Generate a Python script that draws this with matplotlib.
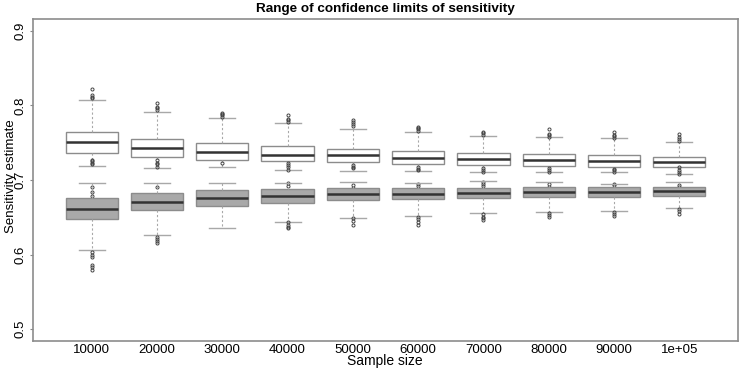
import matplotlib
matplotlib.use("Agg")
import matplotlib.pyplot as plt

plt.rcParams['font.family'] = ['Liberation Sans', 'DejaVu Sans']

sizes = ["10000", "20000", "30000", "40000", "50000",
         "60000", "70000", "80000", "90000", "1e+05"]

# upper confidence limit (white boxes)
hi_med = [0.7506, 0.743, 0.738, 0.734, 0.733, 0.730, 0.7282, 0.7268, 0.726, 0.7246]
hi_q1 = [0.7367, 0.731, 0.7268, 0.725, 0.724, 0.722, 0.720, 0.7192, 0.718, 0.718]
hi_q3 = [0.765, 0.7554, 0.750, 0.746, 0.742, 0.7394, 0.7362, 0.7345, 0.7332, 0.7313]
hi_lo = [0.7188, 0.7166, 0.7179, 0.7134, 0.712, 0.7125, 0.7107, 0.711, 0.711, 0.7076]
hi_hi = [0.8078, 0.791, 0.7832, 0.777, 0.7685, 0.765, 0.7595, 0.7577, 0.756, 0.7514]
hi_out = [
    [0.810, 0.812, 0.814, 0.822, 0.691, 0.684, 0.678],
    [0.794, 0.796, 0.798, 0.803, 0.691],
    [0.785, 0.787, 0.789, 0.790],
    [0.778, 0.780, 0.782, 0.787, 0.696, 0.692],
    [0.772, 0.775, 0.778, 0.781, 0.693, 0.689],
    [0.766, 0.768, 0.770, 0.771, 0.695, 0.692],
    [0.761, 0.763, 0.765, 0.697, 0.694, 0.692],
    [0.758, 0.760, 0.762, 0.768, 0.694, 0.691],
    [0.757, 0.759, 0.761, 0.765, 0.695, 0.693],
    [0.752, 0.755, 0.758, 0.762, 0.693, 0.691],
]

# lower confidence limit (grey boxes)
lo_med = [0.6615, 0.671, 0.6758, 0.6785, 0.6808, 0.6817, 0.6826, 0.6835, 0.6843, 0.6852]
lo_q1 = [0.6472, 0.6593, 0.6647, 0.6695, 0.6727, 0.6745, 0.6758, 0.6772, 0.6776, 0.6789]
lo_q3 = [0.6763, 0.683, 0.6862, 0.6875, 0.6889, 0.6897, 0.6897, 0.690, 0.691, 0.691]
lo_lo = [0.606, 0.6257, 0.6352, 0.6436, 0.6494, 0.6517, 0.6557, 0.6575, 0.6588, 0.6624]
lo_hi = [0.6955, 0.696, 0.696, 0.696, 0.6973, 0.6964, 0.6983, 0.6973, 0.695, 0.6977]
lo_out = [
    [0.721, 0.723, 0.725, 0.727, 0.604, 0.600, 0.597, 0.586, 0.583, 0.579],
    [0.718, 0.721, 0.723, 0.727, 0.624, 0.621, 0.618, 0.616],
    [0.723],
    [0.714, 0.717, 0.720, 0.723, 0.643, 0.640, 0.637, 0.635],
    [0.716, 0.718, 0.720, 0.649, 0.645, 0.640],
    [0.713, 0.715, 0.718, 0.651, 0.648, 0.644, 0.640],
    [0.711, 0.713, 0.716, 0.654, 0.651, 0.649, 0.647],
    [0.711, 0.713, 0.716, 0.656, 0.653, 0.651],
    [0.711, 0.713, 0.715, 0.657, 0.655, 0.652],
    [0.708, 0.711, 0.714, 0.717, 0.661, 0.658, 0.655],
]


def make_stats(med, q1, q3, wlo, whi, out):
    return [dict(med=med[i], q1=q1[i], q3=q3[i], whislo=wlo[i], whishi=whi[i],
                 fliers=out[i], label=sizes[i]) for i in range(len(sizes))]


fig = plt.figure(figsize=(7.43, 3.68), dpi=100)
ax = fig.add_axes([33 / 743, 1 - 341 / 368, 705 / 743, 322 / 368])

pos = list(range(1, len(sizes) + 1))
edge = '#8c8c8c'
for stats, fill in [(make_stats(hi_med, hi_q1, hi_q3, hi_lo, hi_hi, hi_out), 'white'),
                    (make_stats(lo_med, lo_q1, lo_q3, lo_lo, lo_hi, lo_out), '#a9a9a9')]:
    ax.bxp(stats, positions=pos, widths=0.8, patch_artist=True,
           boxprops=dict(facecolor=fill, edgecolor=edge, linewidth=1.0),
           medianprops=dict(color='#333333', linewidth=1.8, solid_capstyle='butt'),
           whiskerprops=dict(color='#a8a8a8', linewidth=0.8, linestyle=(0, (2, 2))),
           capprops=dict(color='#a8a8a8', linewidth=1.0),
           capwidths=0.4,
           flierprops=dict(marker='o', markersize=2.2, markerfacecolor='none',
                           markeredgecolor='#444444', markeredgewidth=0.7),
           manage_ticks=False)

ax.set_xlim(0.1, 10.9)
ax.set_ylim(0.484, 0.916)
ax.set_xticks(pos)
ax.set_xticklabels(sizes, fontsize=9.5)
ax.tick_params(axis='x', length=0, pad=2)
ax.set_yticks([0.5, 0.6, 0.7, 0.8, 0.9])
ax.set_yticklabels(["0.5", "0.6", "0.7", "0.8", "0.9"], fontsize=9.5,
                   rotation=90, va='center')
ax.tick_params(axis='y', length=2.5, width=0.8, color='#888888', pad=2)
for s in ax.spines.values():
    s.set_color('#8c8c8c')
    s.set_linewidth(1.2)

fig.text(385 / 743, 1 - 9 / 368, "Range of confidence limits of sensitivity",
         ha='center', va='center', fontsize=9.7, fontweight='bold')
fig.text(385 / 743, 1 - 361 / 368, "Sample size", ha='center', va='center', fontsize=10)
fig.text(11 / 743, 1 - 176 / 368, "Sensitivity estimate", ha='center', va='center',
         rotation=90, fontsize=9.5)

fig.savefig("out.png", dpi=100)
